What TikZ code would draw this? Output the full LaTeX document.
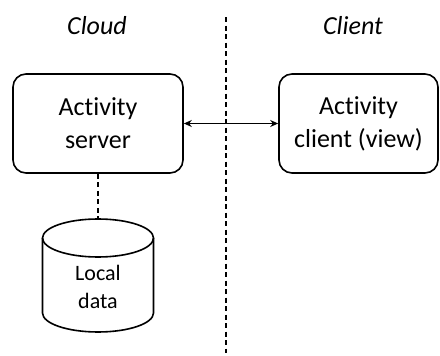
\documentclass[tikz,border=0pt]{standalone}
\usepackage{fontspec}
\setmainfont[Ligatures=NoCommon]{Carlito}
\usetikzlibrary{arrows.meta}
\tikzset{
  box/.style={draw, line width=1.6pt, rounded corners=13pt, minimum width=170pt, minimum height=99pt, align=center, inner sep=0pt, font=\fontsize{26}{33}\selectfont},
  ttl/.style={font=\fontsize{26}{30}\selectfont\itshape},
  dsh/.style={line width=1.4pt, dash pattern=on 5pt off 3.5pt},
  cyl/.style={line width=1.6pt}
}
\begin{document}
\begin{tikzpicture}[x=1pt,y=-1pt]
\useasboundingbox (0,0) rectangle (440,356);
\node[ttl] (cloud) at (97,26) {Cloud};
\node[ttl] (client) at (353,26) {Client};
\coordinate (divtop) at (226,17);
\coordinate (divbot) at (226,353);
\draw[dsh] (divtop) -- (divbot);
\node[box] (server) at (98,123.5) {Activity\\server};
\node[box, minimum width=159pt] (view) at (358.5,123.5) {Activity\\client (view)};
\draw[line width=1.4pt, {Stealth[length=8pt,width=7pt]}-{Stealth[length=8pt,width=7pt]}] (server.east) -- (view.west);
% cylinder
\draw[cyl] (42.5,238) -- (42.5,313) arc[start angle=180, end angle=360, x radius=55.5, y radius=-19] -- (153.5,238);
\draw[cyl] (98,238) ellipse[x radius=55.5, y radius=19];
\coordinate (cyltop) at (98,219);
\node[align=center, inner sep=0pt, font=\fontsize{22}{28}\selectfont] (data) at (98,287) {Local\\data};
\draw[dsh] (server.south) -- (cyltop);
\end{tikzpicture}
\end{document}
